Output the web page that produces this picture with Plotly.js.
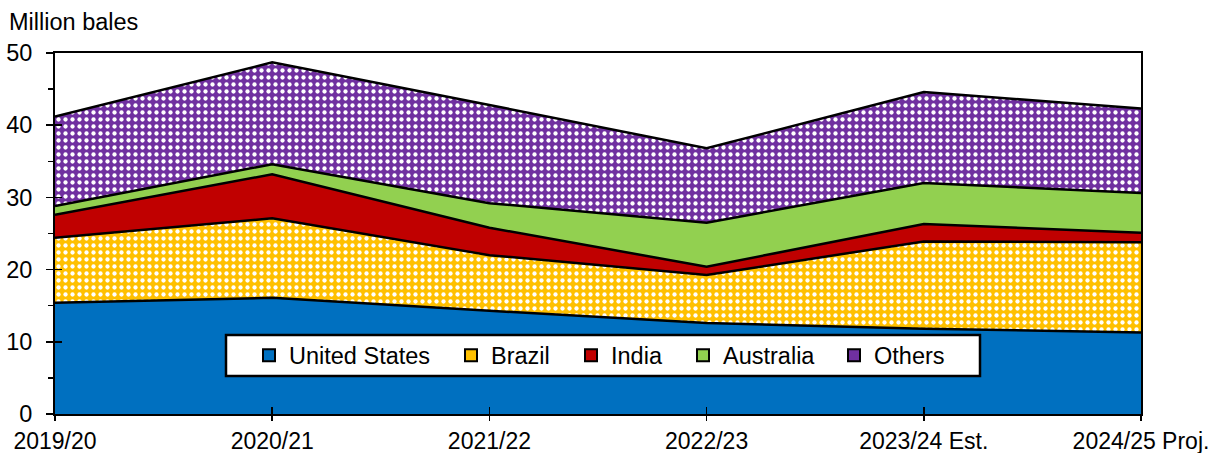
<!DOCTYPE html>
<html>
<head>
<meta charset="utf-8">
<script src="https://cdn.plot.ly/plotly-3.0.1.min.js"></script>
<style>
  html, body { margin: 0; padding: 0; background: #fff; }
  #chart { width: 1213px; height: 453px; }
</style>
</head>
<body>
<div id="chart"></div>
<script>
// Marketing years on the horizontal axis
const seasons = ["2019/20", "2020/21", "2021/22", "2022/23", "2023/24 Est.", "2024/25 Proj."];

// Cotton exports by origin, million bales (stacked)
const unitedStates = [15.4, 16.1, 14.3, 12.6, 11.8, 11.3];
const brazil       = [9.0, 11.0, 7.7, 6.65, 12.1, 12.5];
const india        = [3.2, 6.1, 3.8, 1.15, 2.4, 1.3];
const australia    = [1.2, 1.4, 3.4, 6.1, 5.7, 5.5];
const others       = [12.4, 14.1, 13.6, 10.3, 12.6, 11.7];

const seriesNames = ["United States", "Brazil", "India", "Australia", "Others"];
const seriesData = [unitedStates, brazil, india, australia, others];
const seriesColors = ["#0070C0", "#FFC000", "#C00000", "#92D050", "#7030A0"];
const dotted = [false, true, false, false, true];

const FONT = "Liberation Sans, Arial, sans-serif";
const FS = 23.5;

// Plot area in pixels (used to place the key and the unit label in paper units)
const W = 1213, H = 453;
const M = { l: 55, r: 72, t: 53, b: 39 };
const pw = W - M.l - M.r, ph = H - M.t - M.b;
const px = v => (v - M.l) / pw;
const py = v => (H - M.b - v) / ph;

// Key layout: one legend per entry so the spacing follows the label widths
const keyTextStart = [289, 491, 611, 723, 874];
const keyBox = { x0: 226, x1: 980, y0: 335, y1: 376 };

const traces = [];

// Stacked areas with black outlines
seriesData.forEach((vals, i) => {
  const t = {
    type: "scatter",
    mode: "lines",
    x: seasons,
    y: vals,
    name: seriesNames[i],
    stackgroup: "exports",
    line: { color: "#000", width: 2.5 },
    fillcolor: seriesColors[i],
    showlegend: false,
    hoverinfo: "x+y+name"
  };
  if (dotted[i]) {
    t.fillpattern = { shape: ".", bgcolor: seriesColors[i], fgcolor: "#ffffff", size: 7, solidity: 0.3, fillmode: "replace" };
  }
  traces.push(t);
});

// Key swatches: square with black border
seriesNames.forEach((name, i) => {
  traces.push({
    type: "scatter",
    mode: "markers",
    x: [null],
    y: [null],
    name: name,
    legend: i === 0 ? "legend" : "legend" + (i + 1),
    marker: { symbol: "square", size: 12, color: seriesColors[i], line: { color: "#000", width: 2 } },
    showlegend: true,
    hoverinfo: "skip"
  });
});

// Carrier for the inner half of the crossing tick marks
traces.push({ type: "scatter", mode: "markers", x: [null], y: [null], xaxis: "x2", yaxis: "y2", showlegend: false, hoverinfo: "skip" });

const layout = {
  width: W,
  height: H,
  margin: M,
  paper_bgcolor: "#ffffff",
  plot_bgcolor: "#ffffff",
  font: { family: FONT, size: FS, color: "#000" },
  showlegend: true,
  xaxis: {
    type: "category",
    range: [0, 5],
    showgrid: false,
    zeroline: false,
    showline: true,
    linecolor: "#000",
    linewidth: 2,
    mirror: true,
    ticks: "outside",
    ticklen: 5,
    tickwidth: 1.5,
    tickcolor: "#000",
    ticklabelstandoff: 0,
    tickfont: { family: FONT, size: 23, color: "#000" },
    fixedrange: true
  },
  yaxis: {
    range: [0, 50],
    dtick: 10,
    showgrid: false,
    zeroline: false,
    showline: true,
    linecolor: "#000",
    linewidth: 2,
    mirror: true,
    ticks: "outside",
    ticklen: 7,
    tickwidth: 1.5,
    tickcolor: "#000",
    ticklabelstandoff: 9,
    tickfont: { family: FONT, size: FS, color: "#000" },
    minor: { dtick: 5, ticks: "outside", ticklen: 5, tickwidth: 1.5, tickcolor: "#000" },
    fixedrange: true
  },
  xaxis2: {
    overlaying: "x",
    anchor: "y",
    side: "bottom",
    range: [0, 5],
    dtick: 1,
    showgrid: false,
    zeroline: false,
    showline: false,
    showticklabels: false,
    ticks: "inside",
    ticklen: 7,
    tickwidth: 1.5,
    tickcolor: "#000",
    fixedrange: true
  },
  yaxis2: {
    overlaying: "y",
    anchor: "x",
    side: "left",
    range: [0, 50],
    dtick: 10,
    showgrid: false,
    zeroline: false,
    showline: false,
    showticklabels: false,
    ticks: "inside",
    ticklen: 7,
    tickwidth: 1.5,
    tickcolor: "#000",
    fixedrange: true
  },
  shapes: [{
    type: "rect",
    xref: "paper", yref: "paper",
    x0: px(keyBox.x0), x1: px(keyBox.x1),
    y0: py(keyBox.y1), y1: py(keyBox.y0),
    fillcolor: "#ffffff",
    line: { color: "#000", width: 2.5 },
    layer: "above"
  }],
  annotations: [{
    text: "Million bales",
    xref: "paper", yref: "paper",
    x: px(7), xanchor: "left",
    y: py(22), yanchor: "middle",
    showarrow: false,
    font: { family: FONT, size: FS, color: "#000" }
  }]
};

// One legend box per key entry, transparent, sitting inside the framed rectangle
seriesNames.forEach((name, i) => {
  const key = i === 0 ? "legend" : "legend" + (i + 1);
  layout[key] = {
    orientation: "h",
    x: px(keyTextStart[i] - 40), xanchor: "left",
    y: py((keyBox.y0 + keyBox.y1) / 2), yanchor: "middle",
    bgcolor: "rgba(0,0,0,0)",
    borderwidth: 0,
    font: { family: FONT, size: FS, color: "#000" }
  };
});

Plotly.newPlot("chart", traces, layout, { displayModeBar: false, staticPlot: true });
</script>
</body>
</html>
